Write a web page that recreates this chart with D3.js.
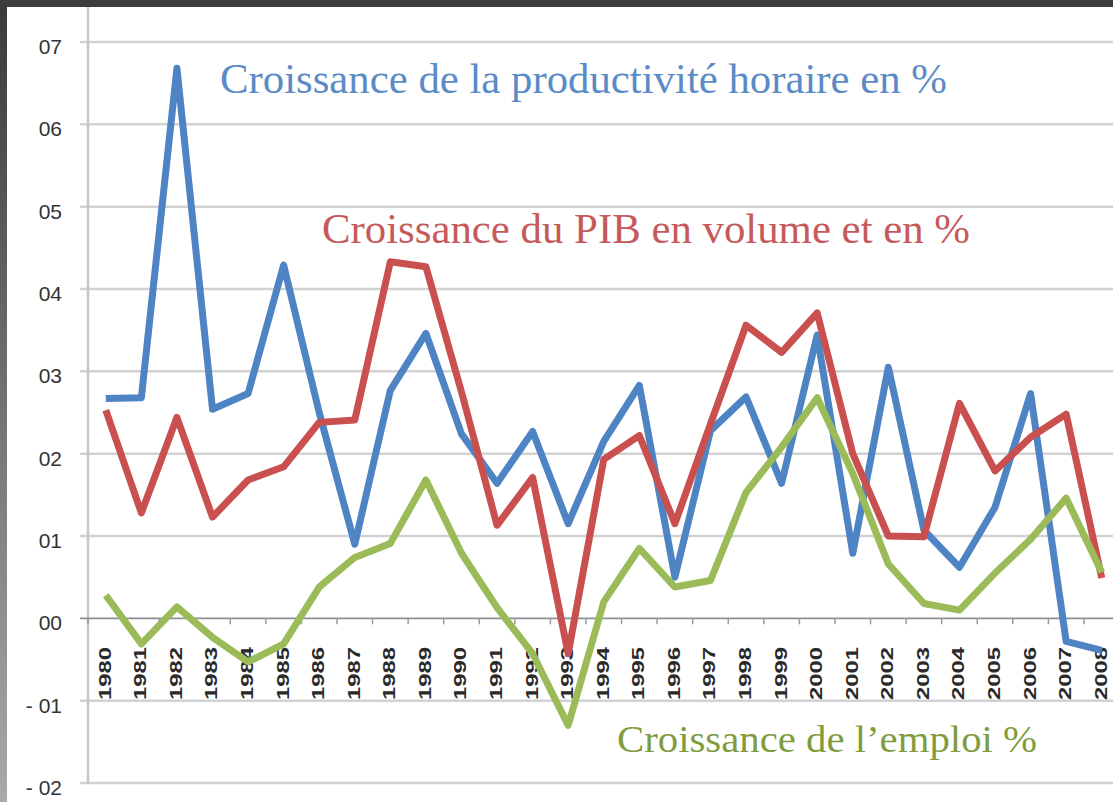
<!DOCTYPE html>
<html>
<head>
<meta charset="utf-8">
<script src="https://cdn.jsdelivr.net/npm/d3@7/dist/d3.min.js"></script>
<style>
  html, body { margin: 0; padding: 0; background: #ffffff; overflow: hidden; }
  svg { display: block; }
</style>
</head>
<body>
<svg id="chart" width="1113" height="802"></svg>
<script>
// ---- data ----
const years = ["1980","1981","1982","1983","1984","1985","1986","1987","1988","1989",
               "1990","1991","1992","1993","1994","1995","1996","1997","1998","1999",
               "2000","2001","2002","2003","2004","2005","2006","2007","2008"];

const productivite = [2.67, 2.68, 6.68, 2.54, 2.73, 4.29, 2.5, 0.9, 2.77, 3.46,
                      2.24, 1.64, 2.27, 1.15, 2.15, 2.83, 0.5, 2.28, 2.69, 1.64,
                      3.44, 0.79, 3.05, 1.07, 0.62, 1.35, 2.73, -0.28, -0.39];

const pib = [2.53, 1.28, 2.44, 1.23, 1.68, 1.84, 2.38, 2.41, 4.33, 4.27,
             2.75, 1.13, 1.71, -0.43, 1.93, 2.22, 1.15, 2.36, 3.56, 3.23,
             3.71, 2.0, 1.0, 0.99, 2.61, 1.79, 2.2, 2.48, 0.49];

const emploi = [0.28, -0.31, 0.14, -0.23, -0.53, -0.31, 0.38, 0.74, 0.91, 1.68,
                0.79, 0.13, -0.43, -1.3, 0.2, 0.85, 0.38, 0.46, 1.53, 2.08,
                2.68, 1.76, 0.66, 0.18, 0.1, 0.55, 0.96, 1.46, 0.56];

const tickValues = [-2, -1, 0, 1, 2, 3, 4, 5, 6, 7];
const tickLabels = ["- 02", "- 01", "00", "01", "02", "03", "04", "05", "06", "07"];

const seriesNames = ["Croissance de la productivité horaire en %",
                     "Croissance du PIB en volume et en %",
                     "Croissance de l\u2019emploi %"];

// ---- drawing ----
const svg = d3.select("#chart");
const W = 1113, H = 802;

// frame (dark top band + gradient left band)
const defs = svg.append("defs");
const grad = defs.append("linearGradient").attr("id", "frameGrad")
  .attr("x1", 0).attr("y1", 0).attr("x2", 0).attr("y2", 1);
grad.append("stop").attr("offset", "0%").attr("stop-color", "#3a3a3a");
grad.append("stop").attr("offset", "100%").attr("stop-color", "#a9a9a9");
svg.append("rect").attr("x", 0).attr("y", 0).attr("width", W).attr("height", H)
  .attr("fill", "url(#frameGrad)");
svg.append("rect").attr("x", 0).attr("y", 0).attr("width", W).attr("height", 7)
  .attr("fill", "#3c3c3c");
svg.append("rect").attr("x", 7).attr("y", 7).attr("width", W - 7).attr("height", H - 7)
  .attr("fill", "#ffffff");

const axisX = 88;
const step = 35.57;
const x = d3.scaleBand().domain(years).range([axisX, axisX + years.length * step]).padding(0);
const y = d3.scaleLinear().domain([-2, 7]).range([783, 42]);
const cx = d => x(d) + x.bandwidth() / 2;

// gridlines
const gridG = svg.append("g");
tickValues.forEach(v => {
  if (v === 0) return;
  gridG.append("line")
    .attr("x1", axisX - 8).attr("x2", W)
    .attr("y1", y(v)).attr("y2", y(v))
    .attr("stroke", "#d2d2d2").attr("stroke-width", 2.5);
});

// y axis line
svg.append("line").attr("x1", axisX).attr("x2", axisX)
  .attr("y1", 7).attr("y2", y(-2) + 1)
  .attr("stroke", "#c6c6c6").attr("stroke-width", 2.5);

// y axis labels via d3 axis
const yAxis = d3.axisLeft(y).tickValues(tickValues)
  .tickFormat(d => tickLabels[tickValues.indexOf(d)])
  .tickSize(0).tickPadding(26);
const yAxisG = svg.append("g").attr("transform", `translate(${axisX},0)`).call(yAxis);
yAxisG.select(".domain").remove();
yAxisG.selectAll("text")
  .attr("font-family", "Liberation Sans, Arial, sans-serif")
  .attr("font-size", 21)
  .attr("fill", "#333333")
  .attr("dy", "0.55em");

// zero axis line with category ticks
svg.append("line").attr("x1", axisX - 8).attr("x2", W)
  .attr("y1", y(0)).attr("y2", y(0))
  .attr("stroke", "#8e8e98").attr("stroke-width", 1.8);
const tickG = svg.append("g");
years.forEach(yr => {
  const xb = x(yr);
  tickG.append("line").attr("x1", xb).attr("x2", xb)
    .attr("y1", y(0)).attr("y2", y(0) + 6)
    .attr("stroke", "#9a9a9a").attr("stroke-width", 1.5);
});

// year labels (rotated)
const xLab = svg.append("g");
years.forEach(yr => {
  xLab.append("text")
    .attr("transform", `translate(${cx(yr) + 5},700) rotate(-90)`)
    .attr("font-family", "Liberation Sans, Arial, sans-serif")
    .attr("font-size", 16)
    .attr("font-weight", "bold")
    .attr("fill", "#2a2a2a")
    .attr("textLength", 53)
    .attr("lengthAdjust", "spacingAndGlyphs")
    .text(yr);
});

// lines
const line = d3.line().x((d, i) => cx(years[i])).y(d => y(d));
const series = [
  { values: productivite, color: "#4f84c4" },
  { values: pib, color: "#c9504f" },
  { values: emploi, color: "#9bbb59" }
];
series.forEach(s => {
  svg.append("path")
    .datum(s.values)
    .attr("d", line)
    .attr("fill", "none")
    .attr("stroke", s.color)
    .attr("stroke-width", 7)
    .attr("stroke-linejoin", "round")
    .attr("stroke-linecap", "butt");
});

// annotations
const labels = [
  { text: seriesNames[0], x: 220, y: 93, size: 42, len: 727, color: "#5b8bc6" },
  { text: seriesNames[1], x: 322, y: 243, size: 42, len: 648, color: "#c65a5b" },
  { text: seriesNames[2], x: 617, y: 752, size: 38, len: 420, color: "#7f9c3f" }
];
labels.forEach(l => {
  svg.append("text")
    .attr("x", l.x).attr("y", l.y)
    .attr("font-family", "Liberation Serif, Times New Roman, serif")
    .attr("font-size", l.size)
    .attr("fill", l.color)
    .attr("textLength", l.len)
    .attr("lengthAdjust", "spacingAndGlyphs")
    .text(l.text);
});
</script>
</body>
</html>
